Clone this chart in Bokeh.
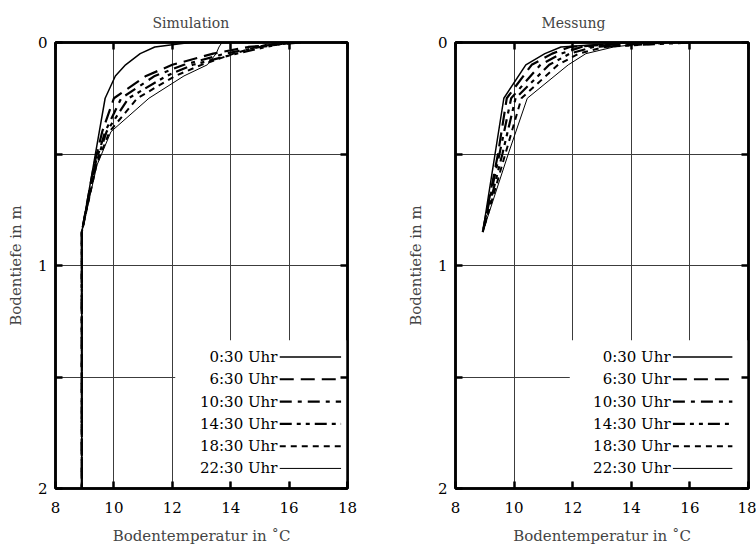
from bokeh.plotting import figure
from bokeh.layouts import row
from bokeh.models import Range1d, FixedTicker, LinearAxis, BoxAnnotation, CustomJSTickFormatter
from bokeh.core.properties import value
from bokeh.embed import file_html
from bokeh.resources import INLINE

FONT = "DejaVu Serif"

# ---------------- data ----------------
series_names = ["0:30 Uhr", "6:30 Uhr", "10:30 Uhr", "14:30 Uhr", "18:30 Uhr", "22:30 Uhr"]

x_ticks = [8, 10, 12, 14, 16, 18]
y_ticks = [0, 0.5, 1, 1.5, 2]

# Simulation (depth in m, temperature in degC)
sim_depth = [0, 0.02, 0.05, 0.1, 0.15, 0.25, 0.4, 0.55, 0.85, 2.0]
sim_0030 = [12.6, 11.4, 10.9, 10.4, 10.05, 9.7, 9.5, 9.3, 8.9, 8.9]
sim_0630 = [16.4, 14.6, 13.4, 12.0, 11.1, 10.0, 9.6, 9.32, 8.9, 8.9]
sim_1030 = [16.2, 15.0, 13.8, 12.4, 11.4, 10.25, 9.7, 9.35, 8.9, 8.9]
sim_1430 = [16.0, 15.2, 14.2, 12.7, 11.8, 10.5, 9.75, 9.37, 8.9, 8.9]
sim_1830 = [15.6, 14.9, 14.1, 13.0, 12.1, 10.8, 9.85, 9.4, 8.9, 8.9]
sim_2230 = [13.7, 13.6, 13.5, 13.2, 12.4, 11.2, 9.9, 9.42, 8.9, 8.9]

# Messung
mes_depth = [0, 0.02, 0.05, 0.1, 0.25, 0.5, 0.85]
mes_0030 = [13.9, 11.6, 11.05, 10.4, 9.65, 9.35, 8.93]
mes_0630 = [14.3, 11.9, 11.3, 10.6, 9.75, 9.45, 8.93]
mes_1030 = [15.2, 12.3, 11.6, 10.9, 9.9, 9.5, 8.93]
mes_1430 = [16.0, 12.7, 11.9, 11.2, 10.05, 9.6, 8.93]
mes_1830 = [15.5, 13.1, 12.2, 11.5, 10.25, 9.7, 8.93]
mes_2230 = [14.7, 13.4, 12.45, 11.85, 10.45, 9.8, 8.93]

# ---------------- styles ----------------
series_dash = ["solid", "14 7", "12 6 4 6", "12 5 4 5 4 5", "6 5", "solid"]
series_width = [1.5, 2.2, 2.2, 2.2, 2.0, 1.0]


def style_axis(ax):
    ax.axis_line_width = 2.5
    ax.axis_line_color = "black"
    ax.major_tick_in = 7
    ax.major_tick_out = 0
    ax.major_tick_line_width = 2.5
    ax.major_tick_line_color = "black"
    ax.minor_tick_in = 7
    ax.minor_tick_out = 0
    ax.minor_tick_line_width = 2.5
    ax.minor_tick_line_color = "black"
    ax.major_label_text_font = FONT
    ax.major_label_text_font_size = "15px"
    ax.major_label_text_color = "black"
    ax.axis_label_text_font = FONT
    ax.axis_label_text_font_style = "normal"
    ax.axis_label_text_font_size = "15px"


def make_fig(title, title_offset, depth, curves, left_border, right_border,
             legend_text_x, legend_line_x0, legend_line_x1, legend_box_left):
    p = figure(width=378, height=548, x_range=Range1d(8, 18), y_range=Range1d(2, 0),
               output_backend="svg", toolbar_location=None,
               min_border_left=left_border, min_border_right=right_border,
               min_border_top=41, min_border_bottom=60)
    p.title.text = title
    p.title.align = "left"
    p.title.offset = title_offset
    p.title.standoff = 24
    p.title.text_font = FONT
    p.title.text_font_size = "14px"
    p.title.text_font_style = "normal"
    p.outline_line_color = "black"
    p.outline_line_width = 2.5
    p.background_fill_color = "white"
    p.border_fill_color = "white"

    p.xaxis.ticker = FixedTicker(ticks=x_ticks, minor_ticks=[])
    p.yaxis.ticker = FixedTicker(ticks=y_ticks, minor_ticks=[])
    p.yaxis.formatter = CustomJSTickFormatter(
        code="return (Math.abs(tick - Math.round(tick)) < 1e-9) ? tick.toFixed(0) : '';")
    p.xaxis.axis_label = "Bodentemperatur in ˚C"
    p.yaxis.axis_label = "Bodentiefe in m"
    for ax in p.xaxis:
        style_axis(ax)
        ax.major_label_standoff = 13
        ax.axis_label_standoff = 11
    for ax in p.yaxis:
        style_axis(ax)
        ax.major_label_standoff = 8
        ax.axis_label_standoff = 10

    # mirrored tick marks on top and right (minor ticks only, so no labels)
    top = LinearAxis(ticker=FixedTicker(ticks=[], minor_ticks=x_ticks))
    style_axis(top)
    p.add_layout(top, "above")
    right = LinearAxis(ticker=FixedTicker(ticks=[], minor_ticks=y_ticks))
    style_axis(right)
    p.add_layout(right, "right")

    p.xgrid.ticker = FixedTicker(ticks=[10, 12, 14, 16], minor_ticks=[])
    p.ygrid.ticker = FixedTicker(ticks=[0.5, 1, 1.5], minor_ticks=[])
    for g in (p.xgrid[0], p.ygrid[0]):
        g.grid_line_color = "#3c3c3c"
        g.grid_line_width = 1

    # legend background hides the grid
    box = BoxAnnotation(left=legend_box_left, right=18, top=1.335, bottom=1.97,
                        fill_color="white", fill_alpha=1, line_alpha=0, level="underlay")
    p.add_layout(box)

    for temps, dash, w in zip(curves, series_dash, series_width):
        p.line(x=temps, y=depth, line_color="black", line_width=w, line_dash=dash)

    # legend (labels on the left of the line samples)
    row_start, row_step = 1.41, 0.1
    rows = [row_start + i * row_step for i in range(len(series_names))]
    p.text(x=[legend_text_x] * len(rows), y=rows, text=series_names,
           text_align="right", text_baseline="middle",
           text_font=value(FONT), text_font_size="15px", text_color="black")
    for yy, dash, w in zip(rows, series_dash, series_width):
        p.line(x=[legend_line_x0, legend_line_x1], y=[yy, yy], line_color="black",
               line_width=w, line_dash=dash)
    return p


p1 = make_fig("Simulation", 97, sim_depth,
              [sim_0030, sim_0630, sim_1030, sim_1430, sim_1830, sim_2230],
              55, 31, 15.6, 15.68, 17.78, 12.1)
p2 = make_fig("Messung", 86, mes_depth,
              [mes_0030, mes_0630, mes_1030, mes_1430, mes_1830, mes_2230],
              77, 8, 15.34, 15.42, 17.45, 11.9)

layout = row(p1, p2)
open("out.html", "w").write(file_html(layout, INLINE))
